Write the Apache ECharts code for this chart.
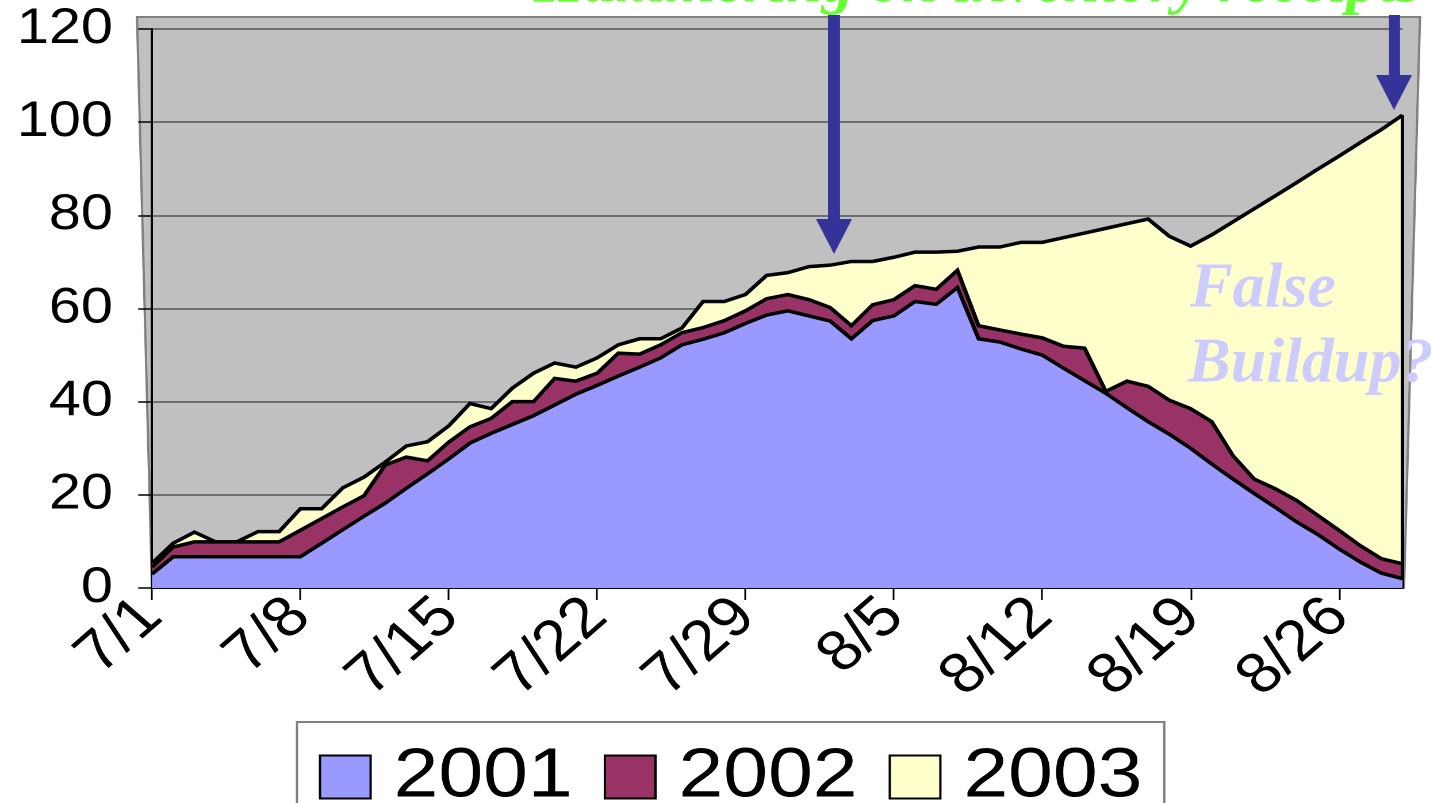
<!DOCTYPE html>
<html>
<head>
<meta charset="utf-8">
<script src="https://cdn.jsdelivr.net/npm/echarts@6/dist/echarts.min.js"></script>
<style>
html,body{margin:0;padding:0;background:#fff;overflow:hidden;width:1437px;height:803px;}
#chart{height:803px;transform-origin:0 0;}
</style>
</head>
<body>
<div id="chart"></div>
<script>
// ---- data ----
var categories = [
  '7/1','7/2','7/3','7/4','7/5','7/6','7/7','7/8','7/9','7/10',
  '7/11','7/12','7/13','7/14','7/15','7/16','7/17','7/18','7/19','7/20',
  '7/21','7/22','7/23','7/24','7/25','7/26','7/27','7/28','7/29','7/30',
  '7/31','8/1','8/2','8/3','8/4','8/5','8/6','8/7','8/8','8/9',
  '8/10','8/11','8/12','8/13','8/14','8/15','8/16','8/17','8/18','8/19',
  '8/20','8/21','8/22','8/23','8/24','8/25','8/26','8/27','8/28','8/29'
];
var seriesNames = ['2001', '2002', '2003'];
var values2001 = [
  3, 6.7, 6.7, 6.7, 6.7, 6.7, 6.7, 6.7, 9.6, 12.5,
  15.4, 18.2, 21.4, 24.5, 27.7, 31.1, 33.2, 35.1, 37, 39.3,
  41.6, 43.5, 45.5, 47.4, 49.4, 52.2, 53.4, 54.8, 56.8, 58.6,
  59.5, 58.4, 57.3, 53.5, 57.4, 58.4, 61.5, 60.9, 64.5, 53.5,
  52.8, 51.3, 50, 47.2, 44.5, 41.8, 38.7, 35.7, 33, 30,
  26.6, 23.4, 20.3, 17.3, 14.2, 11.5, 8.4, 5.6, 3.2, 2
];
var values2002 = [
  1.5, 2.1, 3.2, 3.2, 3.2, 3.2, 3.2, 5.7, 5.3, 4.9,
  4.4, 8.2, 6.7, 2.8, 3.6, 3.5, 3.2, 4.9, 3, 5.7,
  2.8, 2.6, 4.9, 2.8, 2.8, 2.6, 2.5, 2.6, 2.7, 3.5,
  3.5, 3.5, 2.9, 2.8, 3.4, 3.5, 3.4, 3.2, 3.7, 2.8,
  2.6, 3.2, 3.7, 4.7, 7, 0.4, 5.7, 7.6, 7.3, 8.5,
  9.1, 5, 3.1, 4, 4.6, 4.1, 4, 3.5, 3.1, 3.2
];
var values2003 = [
  0.8, 0.8, 2.1, 0, 0, 2.2, 2.2, 4.6, 2.1, 4.1,
  4, 0.6, 2.4, 4.1, 3.5, 5, 2.1, 2.9, 6.1, 3.3,
  3, 3.3, 1.8, 3.3, 1.3, 1, 5.6, 4.1, 3.5, 5,
  4.7, 7.1, 9.1, 13.8, 9.3, 9.1, 7.2, 8, 4.1, 16.9,
  17.8, 19.7, 20.5, 23.3, 24.7, 35, 33.8, 35.9, 35.2, 34.9,
  40.1, 50.2, 58, 62.9, 68.2, 74.3, 80.3, 86.5, 92.1, 96.3
];
var yTicks = [0, 20, 40, 60, 80, 100, 120];
var titleText = 'Hammering on inventory receipts';
var noteLines = ['False', 'Buildup?'];

// ---- styling / layout ----
// The reference chart body is stretched horizontally (~1.15x); reproduce that
// by laying out in narrower space and stretching the container with CSS.
var SX = 1.15;
var PAGE_W = 1437;
var W0 = PAGE_W / SX;
function px(x) { return x / SX; } // page x -> layout x

var colors = ['#9999FF', '#993366', '#FFFFCC'];
var sansFont = '"Liberation Sans", Arial, sans-serif';
var serifFont = '"Liberation Serif", "Times New Roman", serif';

var lastIdx = categories.length - 1;
var lastTotal = values2001[lastIdx] + values2002[lastIdx] + values2003[lastIdx];

function makeSeries(name, data, idx, z) {
  return {
    name: name,
    type: 'line',
    stack: 'total',
    data: data,
    symbol: 'none',
    z: z,
    itemStyle: { color: colors[idx] },
    lineStyle: { color: '#000', width: 3.5, join: 'miter' },
    areaStyle: { color: colors[idx], opacity: 1 },
    emphasis: { disabled: true }
  };
}

var s3 = makeSeries(seriesNames[2], values2003, 2, 3);
s3.markLine = {
  silent: true,
  symbol: ['none', 'none'],
  label: { show: false },
  lineStyle: { color: '#000', width: 3, type: 'solid' },
  data: [[{ coord: [categories[lastIdx], 0] }, { coord: [categories[lastIdx], lastTotal] }]]
};

var el = document.getElementById('chart');
el.style.width = W0 + 'px';
el.style.transform = 'scaleX(' + SX + ')';

function overlayText(text, x, y, font, fill, align, shadowDx) {
  return {
    type: 'text', z: 60, silent: true,
    x: px(x), y: y, scaleX: 1 / SX, scaleY: 1,
    style: {
      text: text, font: font, fill: fill,
      align: align, verticalAlign: 'top',
      textShadowColor: '#A4A4A4', textShadowOffsetX: shadowDx, textShadowOffsetY: 3, textShadowBlur: 0
    }
  };
}

var chart = echarts.init(el, null, { renderer: 'canvas', devicePixelRatio: 2 });
chart.setOption({
  animation: false,
  backgroundColor: '#ffffff',
  grid: { left: px(152), right: W0 - px(1402), top: 29, bottom: 215, containLabel: false },
  xAxis: {
    type: 'category',
    data: categories,
    boundaryGap: false,
    axisLine: { show: true, lineStyle: { color: '#000', width: 2 } },
    axisTick: { show: true, interval: 6, length: 12, lineStyle: { color: '#000', width: 1.5 } },
    axisLabel: {
      interval: 6, rotate: 45, margin: 20,
      fontSize: 57, fontFamily: sansFont, color: '#000'
    },
    splitLine: { show: false }
  },
  yAxis: {
    type: 'value',
    min: yTicks[0], max: yTicks[yTicks.length - 1], interval: yTicks[1] - yTicks[0],
    axisLine: { show: true, lineStyle: { color: '#000', width: 2 } },
    axisTick: { show: true, length: 12, lineStyle: { color: '#000', width: 1.5 } },
    axisLabel: { fontSize: 50, fontFamily: sansFont, color: '#000', margin: 34 },
    splitLine: { show: true, lineStyle: { color: '#555', width: 1.5 } }
  },
  legend: {
    data: seriesNames,
    left: px(297), top: 722,
    orient: 'horizontal',
    icon: 'rect',
    itemWidth: 44, itemHeight: 43, itemGap: 27,
    padding: [20, 19, 20, 19],
    borderColor: '#808080', borderWidth: 2,
    backgroundColor: '#ffffff',
    itemStyle: { borderColor: '#000', borderWidth: 2 },
    textStyle: { fontSize: 70, fontFamily: sansFont, color: '#000', padding: [0, 0, 0, 15] },
    selectedMode: false
  },
  graphic: [
    { type: 'polygon', z: -10, silent: true,
      shape: { points: [[px(137), 17], [px(1420), 17], [px(1404), 588], [px(152), 588]] },
      style: { fill: '#C0C0C0', stroke: '#808080', lineWidth: 2 } },
    overlayText(titleText, 1421, -47, 'italic bold 64px ' + serifFont, '#66FF33', 'right', 3),
    { type: 'rect', z: 60, silent: true, shape: { x: px(828), y: 15, width: px(12), height: 205 }, style: { fill: '#333399' } },
    { type: 'polygon', z: 60, silent: true, shape: { points: [[px(816), 219], [px(852), 219], [px(834), 254]] }, style: { fill: '#333399' } },
    { type: 'rect', z: 60, silent: true, shape: { x: px(1389), y: 15, width: px(11), height: 61 }, style: { fill: '#333399' } },
    { type: 'polygon', z: 60, silent: true, shape: { points: [[px(1376), 75], [px(1412), 75], [px(1394), 110]] }, style: { fill: '#333399' } },
    overlayText(noteLines[0], 1190, 258, 'italic bold 64px ' + serifFont, '#CCCCFF', 'left', -3),
    overlayText(noteLines[1], 1188, 333, 'italic bold 64px ' + serifFont, '#CCCCFF', 'left', -3)
  ],
  series: [
    makeSeries(seriesNames[0], values2001, 0, 5),
    makeSeries(seriesNames[1], values2002, 1, 4),
    s3
  ]
});
</script>
</body>
</html>
